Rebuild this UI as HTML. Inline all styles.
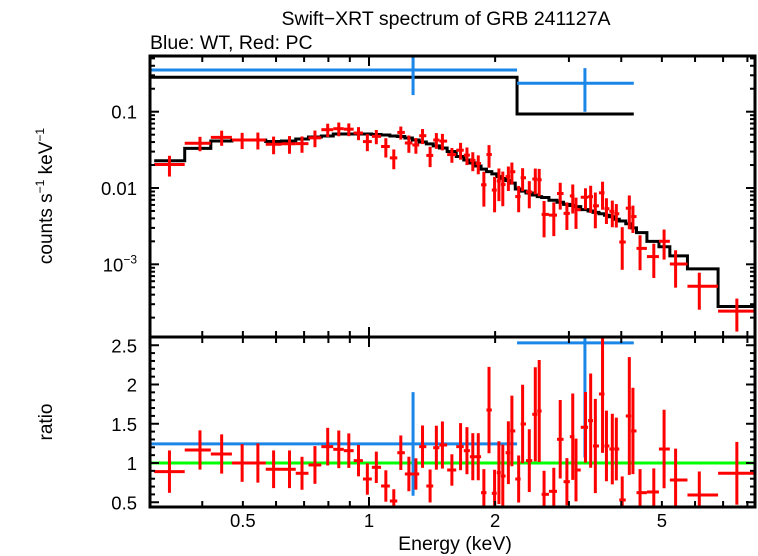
<!DOCTYPE html>
<html><head><meta charset="utf-8">
<style>
html,body{margin:0;padding:0;background:#fff;}
svg{display:block;font-family:"Liberation Sans",Arial,sans-serif;}
</style></head>
<body>
<svg id="chart" width="758" height="556" viewBox="0 0 758 556" xmlns="http://www.w3.org/2000/svg">
<text x="446" y="25" font-size="19.5" text-anchor="middle">Swift−XRT spectrum of GRB 241127A</text>
<text x="150" y="49" font-size="19.5">Blue: WT, Red: PC</text>
<text transform="translate(52,196) rotate(-90)" font-size="19" text-anchor="middle">counts s<tspan font-size="12" dy="-8">−1</tspan><tspan dy="8"> keV</tspan><tspan font-size="12" dy="-8">−1</tspan></text>
<text transform="translate(52,422) rotate(-90)" font-size="19" text-anchor="middle">ratio</text>
<text x="455" y="550" font-size="19.5" text-anchor="middle">Energy (keV)</text>
<defs>
<clipPath id="clipTop"><rect x="150" y="56" width="605" height="281"/></clipPath>
<clipPath id="clipBot"><rect x="150" y="337" width="605" height="170"/></clipPath>
</defs>
<g id="gTop" clip-path="url(#clipTop)"></g>
<g id="gBot" clip-path="url(#clipBot)"></g>
<g id="gAxes"></g>
</svg>
<script>
// PC (red) data
const pcEnergy = [0.334,0.395,0.445,0.498,0.543,0.592,0.646,0.692,0.743,0.797,0.847,0.895,0.944,0.991,1.041,1.097,1.146,1.191,1.245,1.294,1.342,1.399,1.448,1.497,1.577,1.654,1.713,1.769,1.823,1.880,1.934,1.994,2.042,2.086,2.151,2.193,2.276,2.326,2.413,2.494,2.548,2.617,2.761,2.860,2.967,3.064,3.119,3.286,3.381,3.469,3.609,3.687,3.808,3.893,4.021,4.181,4.265,4.435,4.783,5.061,5.392,6.142,7.550];
const pcModel = [0.0228,0.0331,0.0413,0.0426,0.0426,0.0407,0.0413,0.0439,0.0466,0.0481,0.0510,0.0510,0.0510,0.0510,0.0503,0.0495,0.0481,0.0473,0.0452,0.0426,0.0401,0.0378,0.0356,0.0335,0.0301,0.0259,0.0233,0.0213,0.0194,0.0177,0.0164,0.0153,0.0141,0.0133,0.0125,0.0116,0.0097,0.0091,0.0086,0.0081,0.0077,0.0075,0.0069,0.0065,0.0061,0.0059,0.0057,0.0052,0.0050,0.0048,0.0046,0.0044,0.0042,0.0039,0.0037,0.0034,0.0030,0.0026,0.0020,0.0017,0.00129,0.00087,0.00028];
const pcRatio = [0.89,1.166,1.115,1.0,1.0,0.92,0.92,0.869,0.975,1.208,1.174,1.157,1.03,0.796,0.945,0.707,0.516,1.131,0.86,0.86,1.208,0.707,1.195,1.229,0.911,1.208,1.157,1.08,1.08,0.622,1.675,0.614,0.877,0.834,1.131,1.408,0.796,1.497,1.03,1.62,1.662,0.601,0.639,1.302,0.762,1.335,0.911,1.455,1.54,1.217,1.879,1.217,1.178,1.178,0.529,1.599,1.408,0.622,0.631,1.178,0.783,0.592,0.869];
const pcRatioErr = [0.27,0.25,0.25,0.24,0.25,0.24,0.24,0.21,0.24,0.24,0.24,0.22,0.2,0.2,0.2,0.2,0.15,0.22,0.22,0.2,0.27,0.21,0.28,0.3,0.2,0.3,0.3,0.3,0.3,0.3,0.55,0.3,0.4,0.4,0.4,0.45,0.3,0.5,0.4,0.6,0.65,0.3,0.3,0.5,0.3,0.55,0.4,0.45,0.6,0.6,0.75,0.45,0.45,0.4,0.3,0.75,0.55,0.3,0.3,0.5,0.4,0.3,0.4];
// WT (blue) data
const wtLo = [0.30,2.256];
const wtHi = [2.256,4.285];
const wtEnergy = [1.274,3.276];
const wtModel = [0.283,0.0933];
const wtRatio = [1.243,2.53];
const wtRatioErr = [0.66,1.46];
// axis ticks
const topTickVals = [0.1,0.01,0.001];
const ratioTickVals = [0.5,1,1.5,2,2.5];
const xLabelVals = [0.5,1,2,5];

const NS="http://www.w3.org/2000/svg";
const X0=150,X1=755,TY0=56,TY1=337,BY0=337,BY1=507;
const xOf=e=>369+419*Math.log10(e);
const yTop=v=>111.7-76.3*(Math.log10(v)+1);
const yBot=r=>463-78.5*(r-1);
function mk(tag,attrs,parent){const el=document.createElementNS(NS,tag);for(const k in attrs)el.setAttribute(k,attrs[k]);parent.appendChild(el);return el;}
const gTop=document.getElementById('gTop'),gBot=document.getElementById('gBot'),gAx=document.getElementById('gAxes');
const RED="#ff0000",BLUE="#1a86e8",GREEN="#00ff00";
const n=pcEnergy.length,lo=[],hi=[];
for(let i=0;i<n;i++){
  const l=i>0?Math.sqrt(pcEnergy[i-1]*pcEnergy[i]):null;
  const h=i<n-1?Math.sqrt(pcEnergy[i]*pcEnergy[i+1]):null;
  lo.push(l);hi.push(h);
}
lo[0]=pcEnergy[0]*pcEnergy[0]/hi[0];hi[n-1]=pcEnergy[n-1]*pcEnergy[n-1]/lo[n-1];
function line(p,x1,y1,x2,y2,c,w,name){const el=mk('line',{x1,y1,x2,y2,stroke:c,'stroke-width':w},p);

return el;}
let d="";
for(let i=0;i<n;i++){const y=yTop(pcModel[i]);d+=(i===0?"M":"L")+xOf(lo[i])+","+y+"L"+xOf(hi[i])+","+y;}
const mp=mk('path',{d,fill:'none',stroke:'#000','stroke-width':3},gTop);


let d2="";
for(let i=0;i<wtModel.length;i++){const y=yTop(wtModel[i]);d2+=(i===0?"M":"L")+xOf(wtLo[i])+","+y+"L"+xOf(wtHi[i])+","+y;}
const wp=mk('path',{d:d2,fill:'none',stroke:'#000','stroke-width':3},gTop);


line(gBot,X0,yBot(1),X1,yBot(1),GREEN,3,'unity-line');
for(let i=0;i<wtRatio.length;i++){
  const f=wtModel[i]*wtRatio[i],fe=wtModel[i]*wtRatioErr[i];
  const xc=xOf(wtEnergy[i]),y=yTop(f);
  line(gTop,xOf(wtLo[i]),y,xOf(wtHi[i]),y,BLUE,3,'wt-flux-xbar');
  line(gTop,xc,yTop(f+fe),xc,yTop(Math.max(f-fe,1e-6)),BLUE,3,'wt-flux-ybar');
  const yr=yBot(wtRatio[i]);
  line(gBot,xOf(wtLo[i]),yr,xOf(wtHi[i]),yr,BLUE,3,'wt-ratio-xbar');
  line(gBot,xc,yBot(wtRatio[i]+wtRatioErr[i]),xc,yBot(wtRatio[i]-wtRatioErr[i]),BLUE,3,'wt-ratio-ybar');
}
for(let i=0;i<n;i++){
  const f=pcModel[i]*pcRatio[i],fe=pcModel[i]*pcRatioErr[i];
  const xc=xOf(pcEnergy[i]),y=yTop(f);
  line(gTop,xOf(lo[i]),y,xOf(hi[i]),y,RED,3,'pc-flux-xbar');
  line(gTop,xc,yTop(f+fe),xc,yTop(Math.max(f-fe,1e-6)),RED,3,'pc-flux-ybar');
  const yr=yBot(pcRatio[i]);
  line(gBot,xOf(lo[i]),yr,xOf(hi[i]),yr,RED,3,'pc-ratio-xbar');
  line(gBot,xc,yBot(pcRatio[i]+pcRatioErr[i]),xc,yBot(pcRatio[i]-pcRatioErr[i]),RED,3,'pc-ratio-ybar');
}
const f1=mk('rect',{x:X0,y:TY0,width:X1-X0,height:TY1-TY0,fill:'none',stroke:'#000','stroke-width':3},gAx);


const f2=mk('rect',{x:X0,y:BY0,width:X1-X0,height:BY1-BY0,fill:'none',stroke:'#000','stroke-width':3},gAx);


const xt=[0.3,0.4,0.5,0.6,0.7,0.8,0.9,1,2,3,4,5,6,7,8];
xt.forEach(e=>{const x=xOf(e);const L=(e===1)?10:6;
  [[TY0,TY0+L],[TY1,TY1-L],[BY0,BY0+L],[BY1,BY1-L]].forEach(p=>line(gAx,x,p[0],x,p[1],'#000',2,'x-tick'));});
xLabelVals.forEach(e=>{const t=mk('text',{x:xOf(e),y:527,'font-size':18.5,'text-anchor':'middle'},gAx);t.textContent=String(e);

});
for(let dec=-4;dec<=-1;dec++){for(let m=1;m<=9;m++){const v=m*Math.pow(10,dec);const y=yTop(v);if(y<TY0||y>TY1)continue;const L=m===1?9:5;
  line(gAx,X0,y,X0+L,y,'#000',2,'top-y-tick');line(gAx,X1,y,X1-L,y,'#000',2,'top-y-tick');}}
topTickVals.forEach(v=>{const t=mk('text',{x:137,y:yTop(v)+7,'font-size':18.5,'text-anchor':'end'},gAx);
  if(v===0.001){t.innerHTML='10<tspan font-size="12" dy="-8">−3</tspan>';}else t.textContent=String(v);
  
  });
for(let k=5;k<=26;k++){const r=k/10;const y=yBot(r);if(y<BY0||y>BY1)continue;const L=(k%5===0)?9:5;
  line(gAx,X0,y,X0+L,y,'#000',2,'ratio-tick');line(gAx,X1,y,X1-L,y,'#000',2,'ratio-tick');}
ratioTickVals.forEach(r=>{const t=mk('text',{x:137,y:yBot(r)+7,'font-size':18.5,'text-anchor':'end'},gAx);t.textContent=String(r);

});
</script>
</body></html>
